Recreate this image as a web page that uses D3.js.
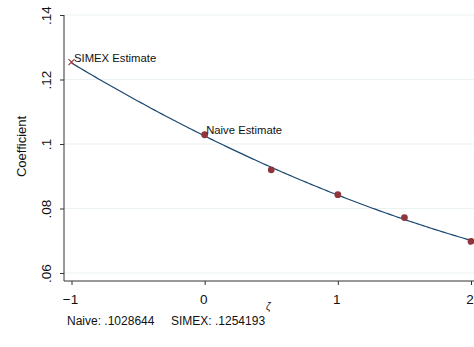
<!DOCTYPE html>
<html>
<head>
<meta charset="utf-8">
<script src="https://cdn.jsdelivr.net/npm/d3@7"></script>
<style>
  body { margin: 0; background: #fff; }
  text { font-family: "Liberation Sans", Arial, sans-serif; fill: #111; }
</style>
</head>
<body>
<div id="container"></div>
<script>
// simulated estimates by lambda (zeta)
const lambdas = [0, 0.5, 1, 1.5, 2];
const coefs = [0.1028644, 0.0920, 0.0843, 0.0772, 0.0698];
const simexX = -1;
const simexY = 0.1254193;
const xTicks = [-1, 0, 1, 2];
const yTicks = [0.06, 0.08, 0.10, 0.12, 0.14];
const yTickLabels = [".06", ".08", ".1", ".12", ".14"];

const w = 474, h = 347;
const left = 64, bottom = 281;

const x = d3.scaleLinear().domain([-1, 2]).range([71.5, 471]);
const y = d3.scaleLinear().domain([0.06, 0.14]).range([273, 15]);

// quadratic least-squares fit of the estimates (extrapolated to -1)
function quadFit(xs, ys) {
  let s = [0, 0, 0, 0, 0], t = [0, 0, 0];
  xs.forEach((xi, i) => {
    for (let k = 0; k < 5; k++) s[k] += Math.pow(xi, k);
    for (let k = 0; k < 3; k++) t[k] += ys[i] * Math.pow(xi, k);
  });
  const A = [[s[0], s[1], s[2], t[0]], [s[1], s[2], s[3], t[1]], [s[2], s[3], s[4], t[2]]];
  for (let i = 0; i < 3; i++) {
    for (let j = i + 1; j < 3; j++) {
      const f = A[j][i] / A[i][i];
      for (let k = i; k < 4; k++) A[j][k] -= f * A[i][k];
    }
  }
  const c = [0, 0, 0];
  for (let i = 2; i >= 0; i--) {
    let v = A[i][3];
    for (let k = i + 1; k < 3; k++) v -= A[i][k] * c[k];
    c[i] = v / A[i][i];
  }
  return (v) => c[0] + c[1] * v + c[2] * v * v;
}
const fit = quadFit(lambdas, coefs);
const curve = d3.range(-1, 2.0001, 0.02).map(v => [v, fit(v)]);

const svg = d3.select("#container").append("svg").attr("width", w).attr("height", h);

// grid
svg.append("g").selectAll("line").data(yTicks).enter().append("line")
   .attr("x1", left).attr("x2", w)
   .attr("y1", d => y(d)).attr("y2", d => y(d))
   .attr("stroke", "#eaf2f3").attr("stroke-width", 1.2);

// curve
svg.append("path")
   .datum(curve)
   .attr("fill", "none")
   .attr("stroke", "#1a476f")
   .attr("stroke-width", 1.2)
   .attr("d", d3.line().x(d => x(d[0])).y(d => y(d[1])));

// points
svg.append("g").selectAll("circle").data(lambdas).enter().append("circle")
   .attr("cx", d => x(d)).attr("cy", (d, i) => y(coefs[i]))
   .attr("r", 3.4).attr("fill", "#90353b");

// simex marker
const sx = x(simexX), sy = y(simexY);
svg.append("path")
   .attr("d", `M${sx - 3},${sy - 3}L${sx + 3},${sy + 3}M${sx - 3},${sy + 3}L${sx + 3},${sy - 3}`)
   .attr("stroke", "#90353b").attr("stroke-width", 1.1);

svg.append("text").attr("x", sx + 2.5).attr("y", sy - 0.5)
   .style("font-size", "11.3px").text("SIMEX Estimate");
svg.append("text").attr("x", x(0) + 1.5).attr("y", y(coefs[0]) - 1)
   .style("font-size", "11.3px").text("Naive Estimate");

// axes
const yAxis = d3.axisLeft(y).tickValues(yTicks).tickFormat((d, i) => yTickLabels[i]).tickSize(4);
const gy = svg.append("g").attr("transform", "translate(" + left + ",0)").call(yAxis);
gy.select(".domain").attr("d", `M0,15V${bottom}`).attr("stroke", "#333");
gy.selectAll(".tick line").attr("stroke", "#333");
gy.selectAll(".tick text")
  .attr("transform", "rotate(-90)")
  .attr("x", 0).attr("y", -13).attr("dy", 0)
  .attr("text-anchor", "middle")
  .style("font-size", "13.5px").style("font-family", "Liberation Sans, Arial, sans-serif").attr("fill", "#111");

const xAxis = d3.axisBottom(x).tickValues(xTicks).tickFormat(d3.format("d")).tickSize(4);
const gx = svg.append("g").attr("transform", "translate(0," + bottom + ")").call(xAxis);
gx.select(".domain").attr("d", `M${left},0H${w}`).attr("stroke", "#333");
gx.selectAll(".tick line").attr("stroke", "#333");
gx.selectAll(".tick text")
  .attr("x", -1.5).attr("y", 23).attr("dy", 0)
  .style("font-size", "13.5px").style("font-family", "Liberation Sans, Arial, sans-serif").attr("fill", "#111");

svg.append("text").attr("x", 67).attr("y", 324.5)
   .style("font-size", "12px").text("Naive: .1028644");
svg.append("text").attr("x", 171).attr("y", 324.5)
   .style("font-size", "12px").text("SIMEX: .1254193");
svg.append("text").attr("x", 266).attr("y", 310)
   .style("font-size", "10px").style("font-style", "italic").text("ζ");

svg.append("text")
   .attr("transform", "translate(25.5,146.5) rotate(-90)")
   .attr("text-anchor", "middle")
   .style("font-size", "13px").text("Coefficient");
</script>
</body>
</html>
